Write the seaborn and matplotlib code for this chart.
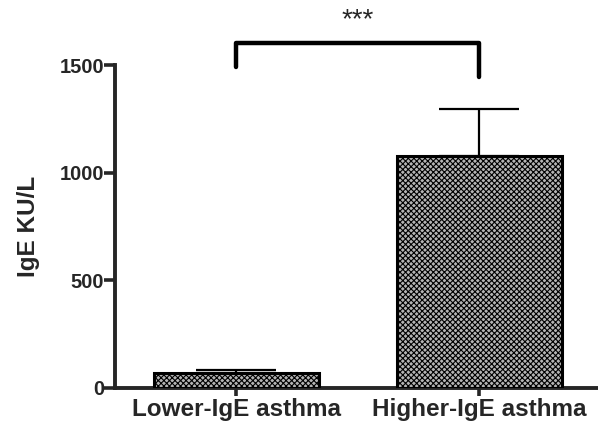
import pandas as pd
import matplotlib
import matplotlib.pyplot as plt
import seaborn as sns

groups = ['Lower-IgE asthma', 'Higher-IgE asthma']
means = [70, 1080]
sems = [15, 218]
sig_label = '***'

sns.set_style('ticks')
plt.rcParams['font.family'] = ['Liberation Sans', 'DejaVu Sans']
plt.rcParams['font.weight'] = 'bold'
plt.rcParams['hatch.linewidth'] = 0.8
plt.rcParams['hatch.color'] = '#555555'

data = pd.DataFrame({'group': groups, 'IgE': means})

fig = plt.figure(figsize=(5.98, 4.34), dpi=100)
ax = fig.add_axes([0.1923, 0.106, 0.8077, 0.7435])

sns.barplot(data=data, x='group', y='IgE', ax=ax, color='#b4b4b4',
            width=0.68, edgecolor='black', linewidth=2.2, errorbar=None)
for bar in ax.patches:
    bar.set_hatch('xxxxxx')
    bar.set_zorder(3)

# upper-only error bars
ax.errorbar(range(len(groups)), means, yerr=[[0] * len(groups), sems],
            fmt='none', ecolor='black', elinewidth=1.6, capsize=29,
            capthick=1.6, zorder=2)

ax.set_ylim(0, 1500)
ax.set_xlim(-0.5, 1.49)
ax.set_yticks([0, 500, 1000, 1500])
ax.set_ylabel('IgE KU/L', fontsize=17.5, fontweight='bold', labelpad=14)
ax.set_xlabel('')
ax.tick_params(axis='y', labelsize=14.5, width=2.6, length=8, pad=0)
ax.tick_params(axis='x', labelsize=17.5, width=2.6, length=6, pad=1)
for lab in ax.get_xticklabels() + ax.get_yticklabels():
    lab.set_fontweight('bold')

for side in ['top', 'right']:
    ax.spines[side].set_visible(False)
for side in ['left', 'bottom']:
    ax.spines[side].set_linewidth(2.8)

# significance bracket
ax.plot([0, 0, 1, 1], [1492, 1604, 1604, 1446], color='black',
        linewidth=3.2, clip_on=False, solid_capstyle='round')
ax.text(0.5, 1648, sig_label, ha='center', va='bottom', fontsize=20,
        fontweight='normal', clip_on=False)

fig.savefig('out.png', dpi=100)
